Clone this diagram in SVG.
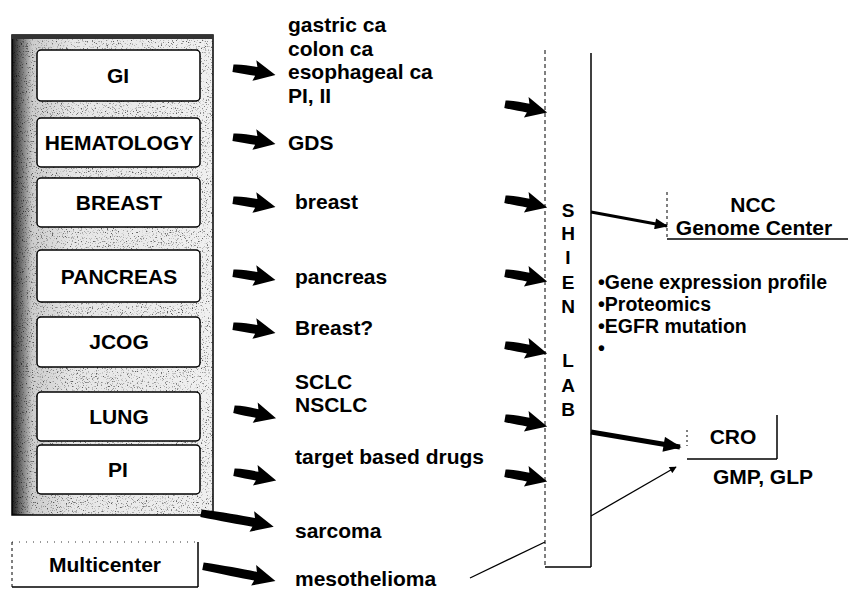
<svg xmlns="http://www.w3.org/2000/svg" xmlns:xlink="http://www.w3.org/1999/xlink" width="855" height="591" viewBox="0 0 855 591">
<defs>
<style>
text{font-family:"Liberation Sans",Arial,sans-serif;font-weight:bold;fill:#000}
.box{fill:#fff;stroke:#000;stroke-width:1.5}
.bl{font-size:21px;text-anchor:middle}
.mid{font-size:21px}
.lab{font-size:19px;text-anchor:middle}
.bul{font-size:19.5px}
.ln{fill:none;stroke:#000}
.ba{fill:#000}
</style>
<linearGradient id="pg" x1="0" y1="0" x2="1" y2="0">
<stop offset="0" stop-color="#1a1a1a"/>
<stop offset="0.04" stop-color="#666"/>
<stop offset="0.1" stop-color="#cccccc"/>
<stop offset="0.3" stop-color="#e6e6e6"/>
<stop offset="1" stop-color="#f0f0f0"/>
</linearGradient>
<filter id="speck" x="0" y="0" width="1" height="1">
<feTurbulence type="fractalNoise" baseFrequency="0.8" numOctaves="2" seed="7" result="n"/>
<feColorMatrix in="n" type="matrix" values="0 0 0 0 0  0 0 0 0 0  0 0 0 0 0  5 0 0 0 -2.9"/>
<feComposite in2="SourceGraphic" operator="in"/>
</filter>
<path id="ar" d="M0,-3.5 C8,-5 16,-4.5 24,-4.5 L22,-11 L43,1 L21,10 L23,4.5 C16,4.5 8,4.5 0,4 Z"/>
<path id="arL" d="M0,-3.5 C20,-4.5 40,-4.5 54,-4.5 L52,-11 L74,1 L51,10 L53,4.5 C40,4.5 20,4.5 0,4 Z"/>
<marker id="mh" viewBox="0 0 12 10" refX="11" refY="5" markerWidth="14" markerHeight="11" markerUnits="userSpaceOnUse" orient="auto"><path d="M0,0 L12,5 L0,10 Z" fill="#000"/></marker>
<marker id="mh2" viewBox="0 0 12 10" refX="11" refY="5" markerWidth="19" markerHeight="15" markerUnits="userSpaceOnUse" orient="auto"><path d="M0,0 L12,5 L0,10 Z" fill="#000"/></marker>
<marker id="ms" viewBox="0 0 10 10" refX="9" refY="5" markerWidth="8" markerHeight="7" markerUnits="userSpaceOnUse" orient="auto"><path d="M0,0 L10,5 L0,10 Z" fill="#000"/></marker>
</defs>
<rect width="855" height="591" fill="#fff"/>

<g id="panel">
<rect x="12" y="35" width="201" height="480" fill="url(#pg)"/>
<rect x="12" y="35" width="201" height="480" fill="#000" filter="url(#speck)" opacity="0.6"/>
<rect x="12" y="35" width="201" height="480" fill="none" stroke="#000" stroke-width="1.5"/>
<rect x="12" y="35" width="201" height="4" fill="#333"/>
</g>

<g id="gi"><rect class="box" x="37" y="50" width="163" height="51" rx="4"/><text class="bl" x="118" y="83">GI</text></g>
<g id="hematology"><rect class="box" x="37" y="118" width="163" height="49" rx="4"/><text class="bl" x="119" y="150">HEMATOLOGY</text></g>
<g id="breast"><rect class="box" x="37" y="178" width="163" height="49" rx="4"/><text class="bl" x="119" y="210">BREAST</text></g>
<g id="pancreas"><rect class="box" x="37" y="250" width="163" height="52" rx="4"/><text class="bl" x="119" y="284">PANCREAS</text></g>
<g id="jcog"><rect class="box" x="37" y="317" width="163" height="50" rx="4"/><text class="bl" x="119" y="349">JCOG</text></g>
<g id="lung"><rect class="box" x="37" y="392" width="163" height="49" rx="4"/><text class="bl" x="119" y="424">LUNG</text></g>
<g id="pi"><rect class="box" x="37" y="445" width="163" height="49" rx="4"/><text class="bl" x="118" y="477">PI</text></g>

<g id="multicenter">
<line class="ln" x1="12" y1="542" x2="198" y2="542" stroke-width="0.8" stroke-dasharray="1,6"/>
<line class="ln" x1="12" y1="542" x2="12" y2="587" stroke-width="1" stroke-dasharray="3,3"/>
<line class="ln" x1="198" y1="542" x2="198" y2="587" stroke-width="1.5"/>
<line class="ln" x1="12" y1="587" x2="198" y2="587" stroke-width="1.5"/>
<text class="bl" x="105" y="572">Multicenter</text>
</g>

<g id="labels">
<text class="mid" x="288" y="32">gastric ca</text>
<text class="mid" x="288" y="56">colon ca</text>
<text class="mid" x="288" y="79">esophageal ca</text>
<text class="mid" x="288" y="103">PI, II</text>
<text class="mid" x="288" y="150">GDS</text>
<text class="mid" x="295" y="209">breast</text>
<text class="mid" x="295" y="284">pancreas</text>
<text class="mid" x="295" y="335">Breast?</text>
<text class="mid" x="295" y="389">SCLC</text>
<text class="mid" x="295" y="412">NSCLC</text>
<text class="mid" x="295" y="464">target based drugs</text>
<text class="mid" x="295" y="538">sarcoma</text>
<text class="mid" x="295" y="586">mesothelioma</text>
</g>

<g id="shien-lab">
<line class="ln" x1="545" y1="50" x2="545" y2="567" stroke-width="1" stroke-dasharray="4,3"/>
<line class="ln" x1="591" y1="53" x2="591" y2="567" stroke-width="1.5"/>
<line class="ln" x1="545" y1="567" x2="591" y2="567" stroke-width="1.5"/>
<text class="lab" x="568" y="217">S</text>
<text class="lab" x="568" y="240">H</text>
<text class="lab" x="568" y="264">I</text>
<text class="lab" x="568" y="289">E</text>
<text class="lab" x="568" y="313">N</text>
<text class="lab" x="568" y="367">L</text>
<text class="lab" x="568" y="392">A</text>
<text class="lab" x="568" y="416">B</text>
</g>

<g id="ncc">
<line class="ln" x1="667" y1="192" x2="667" y2="240" stroke-width="1" stroke-dasharray="3,3"/>
<line class="ln" x1="667" y1="239" x2="848" y2="239" stroke-width="1.5"/>
<text class="mid" x="753" y="212" text-anchor="middle">NCC</text>
<text class="mid" x="754" y="235" text-anchor="middle" font-size="21.5">Genome Center</text>
</g>

<g id="analysis">
<text class="bul" x="598" y="289">•Gene expression profile</text>
<text class="bul" x="598" y="311">•Proteomics</text>
<text class="bul" x="598" y="333">•EGFR mutation</text>
<text class="bul" x="598" y="355">•</text>
</g>

<g id="cro">
<line class="ln" x1="687" y1="430" x2="687" y2="446" stroke-width="1" stroke-dasharray="2,3"/>
<line class="ln" x1="777" y1="415" x2="777" y2="459" stroke-width="1.5"/>
<line class="ln" x1="687" y1="459" x2="777" y2="459" stroke-width="1.5"/>
<text class="mid" x="733" y="444" text-anchor="middle">CRO</text>
<text class="mid" x="713" y="484">GMP, GLP</text>
</g>

<g id="connectors">
<use xlink:href="#ar" class="ba" transform="translate(233,68) rotate(8)"/>
<use xlink:href="#ar" class="ba" transform="translate(233,137) rotate(8)"/>
<use xlink:href="#ar" class="ba" transform="translate(233,200) rotate(8)"/>
<use xlink:href="#ar" class="ba" transform="translate(233,273) rotate(8)"/>
<use xlink:href="#ar" class="ba" transform="translate(233,326) rotate(8)"/>
<use xlink:href="#ar" class="ba" transform="translate(234,409) rotate(11)"/>
<use xlink:href="#ar" class="ba" transform="translate(234,472) rotate(10)"/>
<use xlink:href="#arL" class="ba" transform="translate(201,513) rotate(10)"/>
<use xlink:href="#arL" class="ba" transform="translate(203,566) rotate(11)"/>
<use xlink:href="#ar" class="ba" transform="translate(505,104) rotate(10)"/>
<use xlink:href="#ar" class="ba" transform="translate(505,199) rotate(10)"/>
<use xlink:href="#ar" class="ba" transform="translate(505,273) rotate(10)"/>
<use xlink:href="#ar" class="ba" transform="translate(505,345) rotate(10)"/>
<use xlink:href="#ar" class="ba" transform="translate(505,418) rotate(10)"/>
<use xlink:href="#ar" class="ba" transform="translate(505,473) rotate(10)"/>
<line class="ln" x1="591" y1="212" x2="667" y2="226" stroke-width="3" marker-end="url(#mh)"/>
<line class="ln" x1="591" y1="432" x2="680" y2="447" stroke-width="5" marker-end="url(#mh2)"/>
<line class="ln" x1="470" y1="578" x2="545" y2="542" stroke-width="1.3"/>
<line class="ln" x1="591" y1="516" x2="676" y2="467" stroke-width="1.3" marker-end="url(#ms)"/>
</g>
</svg>
